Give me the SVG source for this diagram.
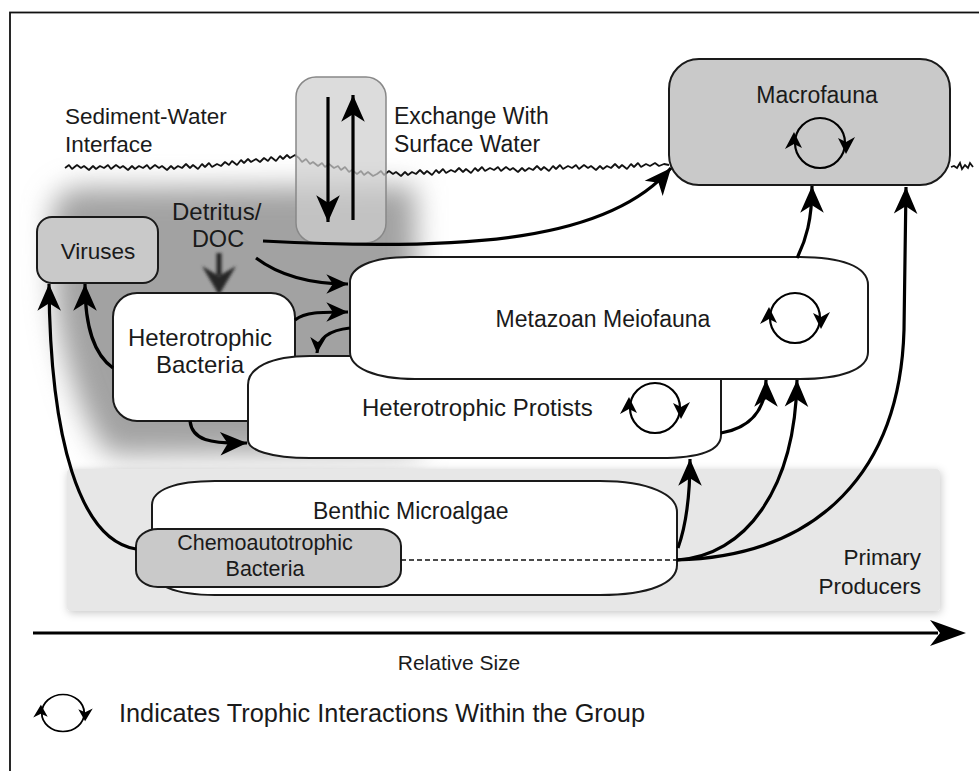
<svg xmlns="http://www.w3.org/2000/svg" xmlns:xlink="http://www.w3.org/1999/xlink" width="979" height="771" viewBox="0 0 979 771">
<style>
.t{font-family:"Liberation Sans",Arial,sans-serif;fill:#1a1a1a;}
.nd{stroke:#1a1a1a;stroke-width:2;}
.c{fill:none;stroke:#000;stroke-width:3.2;}
</style>
<defs>
<filter id="blurBig" x="-30%" y="-30%" width="160%" height="160%"><feGaussianBlur stdDeviation="14"/></filter>
<filter id="blurSm" x="-50%" y="-50%" width="200%" height="200%"><feGaussianBlur stdDeviation="1.4"/></filter>
<filter id="shadow" x="-5%" y="-10%" width="110%" height="125%"><feDropShadow dx="1" dy="2" stdDeviation="4" flood-color="#000" flood-opacity="0.22"/></filter>
<marker id="ah" markerUnits="userSpaceOnUse" markerWidth="30" markerHeight="30" viewBox="-26 -13 28 26" refX="0" refY="0" orient="auto"><path d="M0,0 L-25,-11 L-18,0 L-25,11 Z" fill="#000"/></marker>
<marker id="ahm" markerUnits="userSpaceOnUse" markerWidth="26" markerHeight="26" viewBox="-22 -11 24 22" refX="0" refY="0" orient="auto"><path d="M0,0 L-20,-9 L-14,0 L-20,9 Z" fill="#000"/></marker>
<marker id="ahs" markerUnits="userSpaceOnUse" markerWidth="20" markerHeight="20" viewBox="-16 -8 18 16" refX="0" refY="0" orient="auto"><path d="M0,0 L-14,-7 L-10,0 L-14,7 Z" fill="#000"/></marker>
<g id="cyc"><circle r="25" fill="none" stroke="#000" stroke-width="2.2"/><path d="M-26,-11 L-35,6 L-26,1 L-18,5 Z" fill="#000"/><path d="M26,11 L18,-5 L26,-1 L35,-6 Z" fill="#000"/></g>
</defs>

<rect x="10" y="12.5" width="1000" height="800" fill="#fff" stroke="#111" stroke-width="1.8"/>

<!-- dark shaded region -->
<path d="M70,188 L415,186 L420,452 L110,455 C85,430 62,360 55,300 L52,205 Z" fill="#a2a2a2" filter="url(#blurBig)"/>

<!-- primary producers panel -->
<g id="primary-producers">
<rect x="67" y="469" width="873" height="142" rx="4" fill="#e7e7e7" filter="url(#shadow)"/>
<text class="t" x="921" y="565" font-size="22.5" text-anchor="end">Primary</text>
<text class="t" x="921" y="594" font-size="22.5" text-anchor="end">Producers</text>
</g>

<!-- sediment-water interface -->
<g id="interface">
<path fill="none" stroke="#111" stroke-width="1.8" stroke-linejoin="bevel" d="M65,168 l4,-3 3,4 5,-4 4,3 3,-2 5,4 4,-4 3,3 4,-3 4,2 l4,-3 3,4 5,-4 4,3 3,-2 5,4 4,-4 3,3 4,-3 4,2 l4,-3 3,4 5,-4 4,3 3,-2 5,4 4,-4 3,3 4,-3 4,2 l4,-4 4,4 3,-3 5,4 4,-5 3,3 4,-4 3,4 5,-3 4,2 l4,-4 4,3 3,-4 5,4 4,-5 3,3 4,-4 3,3 5,-3 4,3 l4,-4 4,3 3,-4 5,4 4,-5 3,3 4,-4 3,3 5,-3 4,3 l3,4 4,-3 4,5 3,-2 5,4 4,-3 3,4 4,-3 5,4 4,-2 l3,4 4,-3 4,5 3,-2 5,4 4,-3 3,4 4,-3 5,4 4,-2 l4,-3 3,4 5,-4 4,3 3,-2 5,4 4,-4 3,3 4,-3 4,2 l4,-4 4,4 3,-3 5,4 4,-5 3,3 4,-4 3,4 5,-3 4,2 l4,-4 4,4 3,-3 5,4 4,-5 3,3 4,-4 3,4 5,-3 4,2 l4,-3 3,4 5,-4 4,3 3,-2 5,4 4,-4 3,3 4,-3 4,2 l4,-4 4,4 3,-3 5,4 4,-5 3,3 4,-4 3,4 5,-3 4,2 l4,-3 3,4 5,-4 4,3 3,-2 5,4 4,-4 3,3 4,-3 4,2 l4,-4 4,4 3,-3 5,4 4,-5 3,3 4,-4 3,4 5,-3 4,2 l5,-3 4,3 5,-2 5,1"/>
<path fill="none" stroke="#111" stroke-width="1.8" d="M951,167 l3,-1 3,2 3,-5 2,6 3,-4 3,3 2,-5 3,4"/>
<text class="t" x="65" y="124" font-size="22.5">Sediment-Water</text>
<text class="t" x="65" y="152" font-size="22.5">Interface</text>
</g>

<!-- exchange with surface water -->
<g id="exchange">
<rect x="296" y="77" width="90" height="166" rx="20" fill="#cfcfcf" fill-opacity="0.72" stroke="#888" stroke-width="1.5"/>
<line x1="328" y1="97" x2="328" y2="222" stroke="#000" stroke-width="3.2" marker-end="url(#ah)"/>
<line x1="353" y1="220" x2="353" y2="95" stroke="#000" stroke-width="3.2" marker-end="url(#ah)"/>
<text class="t" x="394" y="124" font-size="23">Exchange With</text>
<text class="t" x="394" y="152" font-size="23">Surface Water</text>
</g>

<g id="macrofauna">
<rect class="nd" x="669" y="59" width="281" height="126" rx="30" fill="#c9c9c9"/>
<text class="t" x="817" y="103" font-size="23" text-anchor="middle">Macrofauna</text>
<use xlink:href="#cyc" href="#cyc" transform="translate(820,143)"/>
</g>

<g id="viruses">
<rect class="nd" x="37" y="217" width="121" height="66" rx="15" fill="#c9c9c9"/>
<text class="t" x="98" y="259" font-size="22.5" text-anchor="middle">Viruses</text>
</g>

<g id="detritus-doc">
<text class="t" x="172" y="220" font-size="24">Detritus/</text>
<text class="t" x="218" y="247" font-size="23.5" text-anchor="middle">DOC</text>
<g filter="url(#blurSm)" fill="#262626">
<rect x="216.5" y="253" width="5" height="22"/>
<path d="M219,295 L202,266 L219,276 L236,266 Z"/>
</g>
</g>

<g id="heterotrophic-bacteria">
<rect class="nd" x="113" y="293" width="182" height="128" rx="24" fill="#fff"/>
<text class="t" x="200" y="346" font-size="24" text-anchor="middle">Heterotrophic</text>
<text class="t" x="200" y="373" font-size="24" text-anchor="middle">Bacteria</text>
</g>

<g id="heterotrophic-protists">
<path class="nd" fill="#fff" d="M310,356 L700,356 Q721,356 721,375 L721,435 C721,450 700,458 660,458 L310,458 C270,458 248,450 248,440 L248,385 C248,368 270,356 310,356 Z"/>
<text class="t" x="362" y="416" font-size="24">Heterotrophic Protists</text>
<use xlink:href="#cyc" href="#cyc" transform="translate(655,408)"/>
</g>

<g id="metazoan-meiofauna">
<path class="nd" fill="#fff" d="M410,257 L800,257 C840,257 868,266 868,285 L868,352 C868,370 840,379 800,379 L415,379 C375,379 350,368 350,352 L350,282 C350,268 370,257 410,257 Z"/>
<text class="t" x="603" y="327" font-size="23" text-anchor="middle">Metazoan Meiofauna</text>
<use xlink:href="#cyc" href="#cyc" transform="translate(795,318)"/>
</g>

<g id="benthic-microalgae">
<path class="nd" fill="#fff" d="M215,481 L600,481 C650,481 677,495 677,512 L677,565 C677,583 650,595 600,595 L215,595 C175,595 152,585 152,570 L152,505 C152,490 175,481 215,481 Z"/>
<text class="t" x="313" y="519" font-size="23">Benthic Microalgae</text>
</g>

<g id="chemoautotrophic-bacteria">
<rect class="nd" x="136" y="529" width="265" height="58" rx="22" ry="17" fill="#c9c9c9"/>
<text class="t" x="265" y="550" font-size="21.5" text-anchor="middle">Chemoautotrophic</text>
<text class="t" x="265" y="576" font-size="21.5" text-anchor="middle">Bacteria</text>
</g>

<g id="connectors">
<path class="c" d="M263,241 C470,252 610,240 671,168" marker-end="url(#ah)"/>
<path class="c" d="M256,258 C280,276 310,284 348,284" marker-end="url(#ahm)"/>
<path class="c" d="M295,320 C305,312 320,312 348,312" marker-end="url(#ahm)"/>
<path class="c" d="M350,328 C330,330 318,338 317,353" stroke-width="2.6" marker-end="url(#ahs)"/>
<path class="c" d="M113,368 C95,355 85,330 85,284" marker-end="url(#ah)"/>
<path class="c" d="M136,549 C80,540 50,440 49,284" marker-end="url(#ah)"/>
<path class="c" d="M190,421 C192,440 210,444 247,443" marker-end="url(#ah)"/>
<path class="c" d="M797,258 C806,240 812,220 812,186" marker-end="url(#ah)"/>
<path class="c" d="M721,433 C750,428 766,410 766,380" marker-end="url(#ah)"/>
<path class="c" d="M678,548 C688,520 690,490 690,459" marker-end="url(#ah)"/>
<path class="c" d="M677,560 C745,556 795,490 797,380" marker-end="url(#ah)"/>
<path class="c" d="M677,560 C820,556 900,470 904,330 L906,187" marker-end="url(#ah)"/>
<line x1="401" y1="560" x2="677" y2="560" stroke="#111" stroke-width="1.5" stroke-dasharray="5,3"/>
</g>

<g id="relative-size-axis">
<line x1="33" y1="633" x2="938" y2="633" stroke="#000" stroke-width="3"/>
<path d="M966,633 L930,620 L940,633 L930,646 Z" fill="#000"/>
<text class="t" x="459" y="670" font-size="21" text-anchor="middle">Relative Size</text>
</g>

<g id="legend">
<use xlink:href="#cyc" href="#cyc" transform="translate(63,713) scale(0.85,0.74)"/>
<text class="t" x="119" y="722" font-size="26" textLength="526" lengthAdjust="spacingAndGlyphs">Indicates Trophic Interactions Within the Group</text>
</g>
</svg>
